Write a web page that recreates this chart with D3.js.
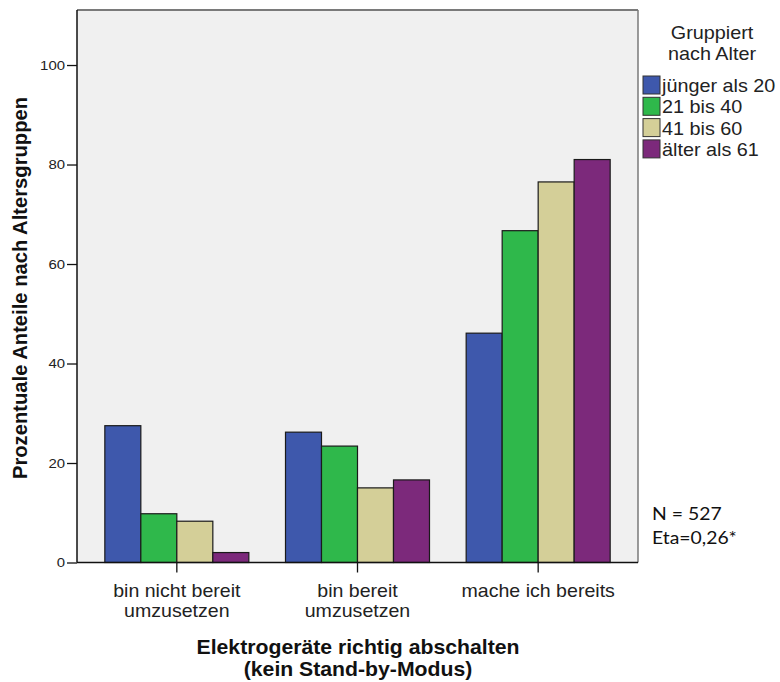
<!DOCTYPE html>
<html><head><meta charset="utf-8">
<script src="https://cdn.jsdelivr.net/npm/d3@7"></script>
<style>body{margin:0;background:#fff}svg{display:block}</style>
</head><body><svg id="c" width="780" height="682"></svg>
<script>
const categories = [["bin nicht bereit","umzusetzen"],["bin bereit","umzusetzen"],["mache ich bereits"]];
const seriesNames = ["jünger als 20","21 bis 40","41 bis 60","älter als 61"];
const seriesColors = ["#3e58ac","#2fb84b","#d4cf98","#7c297b"];
const values = [
  [27.5, 26.2, 46.1],
  [9.8, 23.4, 66.7],
  [8.3, 15.0, 76.5],
  [2.0, 16.6, 81.0]
];
const yTicks = [0,20,40,60,80,100];
const legendTitle = ["Gruppiert","nach Alter"];
const xTitle = ["Elektrogeräte richtig abschalten","(kein Stand-by-Modus)"];
const yTitle = "Prozentuale Anteile nach Altersgruppen";
const notes = ["N = 527","Eta=0,26*"];

const svg = d3.select("#c");
const L=77, R=638, T=10, B=562.5;
const SX = 1.1; // horizontal stretch of the reference picture
const y = d3.scaleLinear().domain([0,111.06]).range([B,T]);
const x = d3.scaleBand().domain(d3.range(categories.length)).range([L+9.5,R-9.5]).padding(0);
const inner = d3.scaleBand().domain(d3.range(seriesNames.length)).range([0,144]);
const F = "'Liberation Sans', Arial, sans-serif";

function txt(px, py, t, size, opts={}) {
  const e = svg.append("text").attr("transform",`translate(${px},${py}) scale(${SX},1)`)
    .attr("font-family",opts.font||F).attr("font-size",size)
    .attr("fill",opts.fill||"#222").attr("text-anchor",opts.anchor||"start").text(t);
  if (opts.bold) e.attr("font-weight","bold");
  return e;
}

svg.append("rect").attr("x",L).attr("y",T).attr("width",R-L).attr("height",B-T).attr("fill","#f0f0f0");

// bars
seriesNames.forEach((s,si)=>{
  svg.append("g").selectAll("rect").data(values[si]).join("rect")
    .attr("x",(d,i)=>x(i)+x.bandwidth()/2-72+inner(si))
    .attr("y",d=>y(d))
    .attr("width",inner.bandwidth())
    .attr("height",d=>B-y(d))
    .attr("fill",seriesColors[si])
    .attr("stroke","#1a1a1a").attr("stroke-width",1.2);
});

// frame
svg.append("line").attr("x1",L).attr("x2",R).attr("y1",T).attr("y2",T).attr("stroke","#7a7a7a").attr("stroke-width",2);
svg.append("line").attr("x1",R).attr("x2",R).attr("y1",T).attr("y2",B).attr("stroke","#7a7a7a").attr("stroke-width",1.5);
svg.append("line").attr("x1",L).attr("x2",R).attr("y1",B).attr("y2",B).attr("stroke","#111").attr("stroke-width",1.5);

// y axis
const ya = svg.append("g").attr("transform",`translate(${L},0)`)
  .call(d3.axisLeft(y).tickValues(yTicks).tickSize(10).tickPadding(2));
ya.select(".domain").attr("stroke","#111").attr("stroke-width",1.5).attr("d",`M-0,${T}V${B}`);
ya.selectAll(".tick line").attr("stroke","#111").attr("stroke-width",1.3);
ya.selectAll(".tick text").attr("font-family",F).attr("font-size",13.6).attr("fill","#222")
  .attr("x",-12/SX).attr("transform",`scale(${SX},1)`);

// x ticks and labels
categories.forEach((c,i)=>{
  const cx = x(i)+x.bandwidth()/2;
  svg.append("line").attr("x1",cx).attr("x2",cx).attr("y1",B).attr("y2",B+10).attr("stroke","#111").attr("stroke-width",1.3);
  c.forEach((t,j)=>txt(cx, 597+j*20, t, 17.8, {anchor:"middle"}));
});

// titles
xTitle.forEach((t,j)=>txt(358, 654+j*22, t, 19.3, {anchor:"middle", bold:true, fill:"#111"}));
svg.append("text").attr("transform","translate(27,288) rotate(-90)").attr("text-anchor","middle")
  .attr("font-family",F).attr("font-size",20.2).attr("font-weight","bold").attr("fill","#111").text(yTitle);

// legend
legendTitle.forEach((t,j)=>txt(712, 38.5+j*21.5, t, 18, {anchor:"middle"}));
seriesNames.forEach((s,i)=>{
  const yy = 76+i*21.3;
  svg.append("rect").attr("x",643).attr("y",yy).attr("width",17).attr("height",18)
    .attr("fill",seriesColors[i]).attr("stroke","#333").attr("stroke-width",1);
  txt(662, yy+16, s, 18);
});

// notes
notes.forEach((t,j)=>txt(652, 520+j*24, t, 17.6, {font:"Lato, 'Open Sans', sans-serif", fill:"#111"}));
</script></body></html>
